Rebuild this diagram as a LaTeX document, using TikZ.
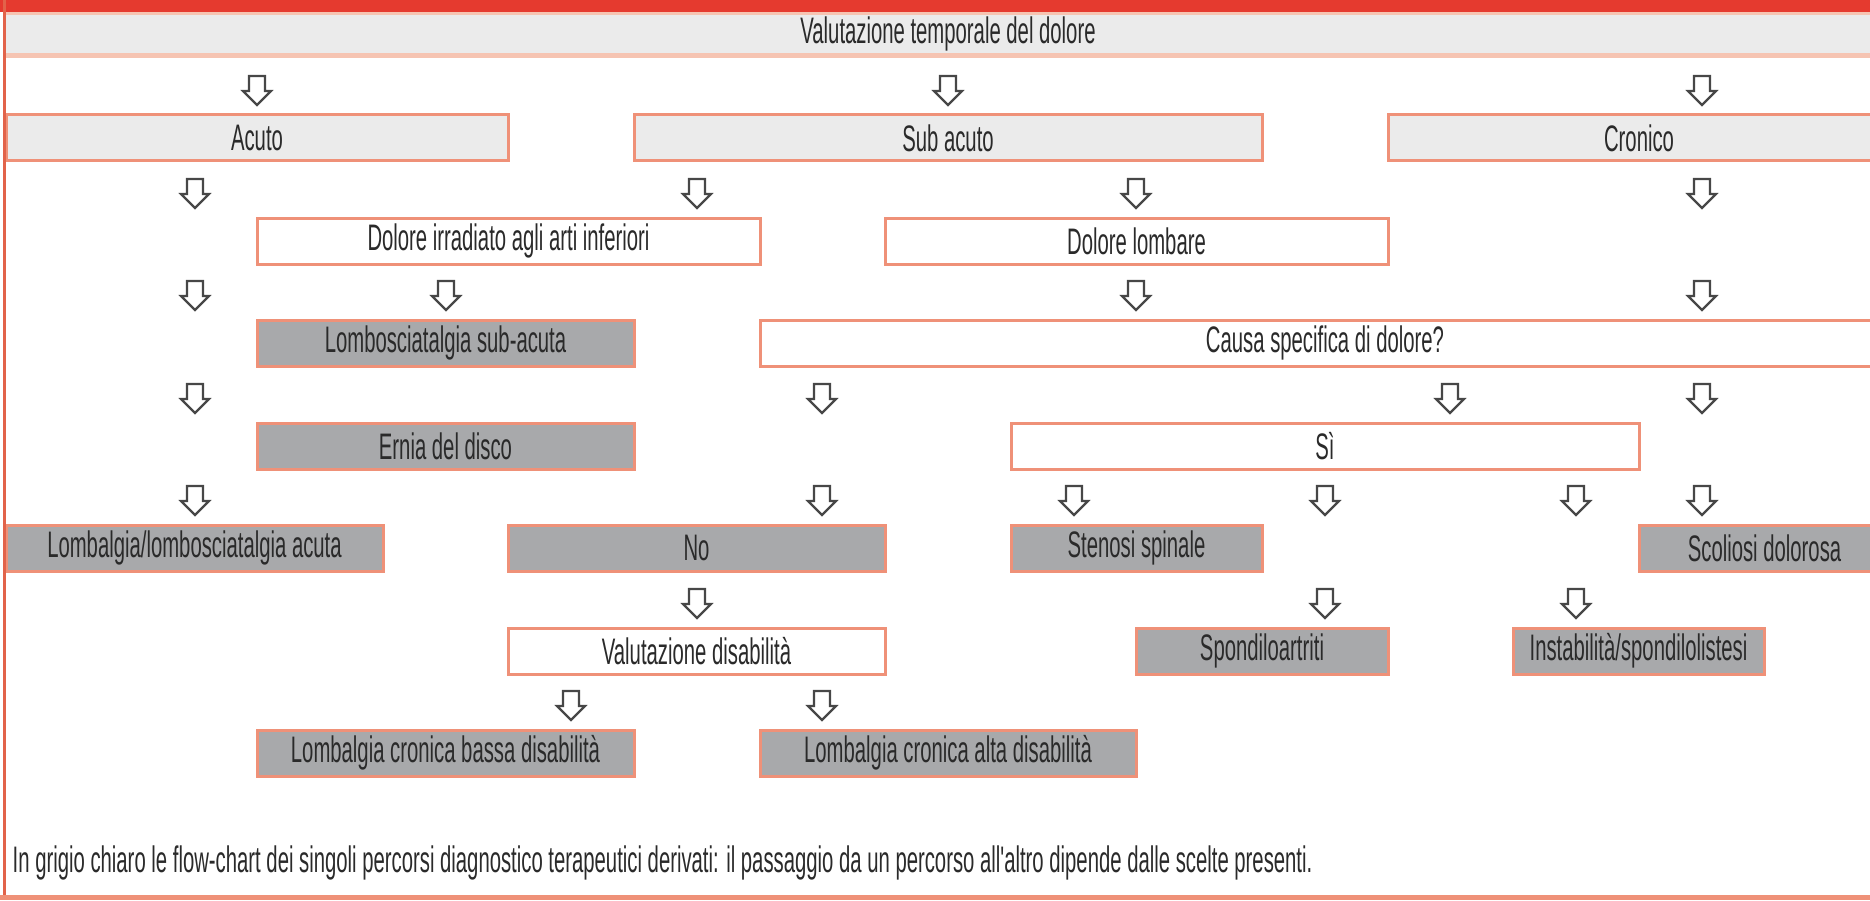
\documentclass[tikz,border=0pt]{standalone}
\usepackage{fontspec}
\newfontfamily\cond{Liberation Sans}[FakeStretch=0.55]
\definecolor{redband}{HTML}{E53A2F}
\definecolor{boxline}{HTML}{EF9178}
\definecolor{darkline}{HTML}{E2634A}
\definecolor{lgray}{HTML}{EBEBEB}
\definecolor{dgray}{HTML}{A8A9AB}
\definecolor{pinkstrip}{HTML}{F6C4B2}
\definecolor{txt}{HTML}{2A2A2A}
\definecolor{arrline}{HTML}{474747}
\tikzset{
  basebox/.style={draw=boxline, line width=0.3mm, inner sep=0pt, text=txt,
    font=\cond\fontsize{10.5}{12}\selectfont},
  lightbox/.style={basebox, fill=lgray},
  whitebox/.style={basebox, fill=white},
  graybox/.style={basebox, fill=dgray},
  arrsty/.style={draw=arrline, fill=white, line width=0.22mm, line join=miter},
  darr/.pic={\draw[arrsty] (-8,-29) -- (8,-29) -- (8,-14) -- (14,-14) -- (0,0) -- (-14,-14) -- (-8,-14) -- cycle;}
}
% style, name, x1, x2, ytop, text
\newcommand\flowbox[6]{\node[#1, minimum width={(#4-#3)*0.1mm}, minimum height=4.6mm] (#2) at ({(#3+#4)/2},{#5+23}) {#6};}
\begin{document}
\begin{tikzpicture}[x=0.1mm, y=-0.1mm]
\useasboundingbox (0,0) rectangle (1870,900);
\clip (0,0) rectangle (1870,900);
% top red band and title bar
\fill[redband] (0,0) rectangle (1870,12);
\fill[pinkstrip] (6,12) rectangle (1890,15);
\fill[lgray] (6,15) rectangle (1890,53);
\fill[pinkstrip] (6,53) rectangle (1890,58);
\node[font=\cond\fontsize{10.5}{12}\selectfont, text=txt] (title) at (948,34) {Valutazione temporale del dolore};
% row 0
\flowbox{lightbox}{acuto}{6}{508}{115}{Acuto}
\flowbox{lightbox}{subacuto}{634}{1262}{115}{Sub acuto}
\flowbox{lightbox}{cronico}{1388}{1890}{115}{Cronico}
% row 1
\flowbox{whitebox}{irradiato}{257}{760}{218}{Dolore irradiato agli arti inferiori}
\flowbox{whitebox}{lombare}{885}{1388}{218}{Dolore lombare}
% row 2
\flowbox{graybox}{subacuta}{257}{634}{320}{Lombosciatalgia sub-acuta}
\flowbox{whitebox}{causa}{760}{1890}{320}{Causa specifica di dolore?}
% row 3
\flowbox{graybox}{ernia}{257}{634}{423}{Ernia del disco}
\flowbox{whitebox}{si}{1011}{1639}{423}{Sì}
% row 4
\flowbox{graybox}{acuta}{6}{383}{525}{Lombalgia/lombosciatalgia acuta}
\flowbox{graybox}{no}{508}{885}{525}{No}
\flowbox{graybox}{stenosi}{1011}{1262}{525}{Stenosi spinale}
\flowbox{graybox}{scoliosi}{1639}{1890}{525}{Scoliosi dolorosa}
% row 5
\flowbox{whitebox}{valdis}{508}{885}{628}{Valutazione disabilità}
\flowbox{graybox}{spondilo}{1136}{1388}{628}{Spondiloartriti}
\flowbox{graybox}{instab}{1513}{1764}{628}{Instabilità/spondilolistesi}
% row 6
\flowbox{graybox}{bassa}{257}{634}{730}{Lombalgia cronica bassa disabilità}
\flowbox{graybox}{alta}{760}{1136}{730}{Lombalgia cronica alta disabilità}
% arrows (placed at tip = next box top - 10)
\foreach \x [count=\i] in {257,948,1702} {\pic (ra\i) at (\x,105) {darr};}
\foreach \x [count=\i] in {195,697,1136,1702} {\pic (rb\i) at (\x,208) {darr};}
\foreach \x [count=\i] in {195,446,1136,1702} {\pic (rc\i) at (\x,310) {darr};}
\foreach \x [count=\i] in {195,822,1450,1702} {\pic (rd\i) at (\x,413) {darr};}
\foreach \x [count=\i] in {195,822,1074,1325,1576,1702} {\pic (re\i) at (\x,515) {darr};}
\foreach \x [count=\i] in {697,1325,1576} {\pic (rf\i) at (\x,618) {darr};}
\foreach \x [count=\i] in {571,822} {\pic (rg\i) at (\x,720) {darr};}
% footer
\node[anchor=west, inner sep=0pt, font=\cond\fontsize{10.5}{12}\selectfont, text=txt] (note) at (12,863) {In grigio chiaro le flow-chart dei singoli percorsi diagnostico terapeutici derivati: il passaggio da un percorso all'altro dipende dalle scelte presenti.};
% frame lines
\draw[darkline, line width=0.35mm] (4.5,0) -- (4.5,900);
\fill[boxline] (0,895) rectangle (1870,900);
\end{tikzpicture}
\end{document}
